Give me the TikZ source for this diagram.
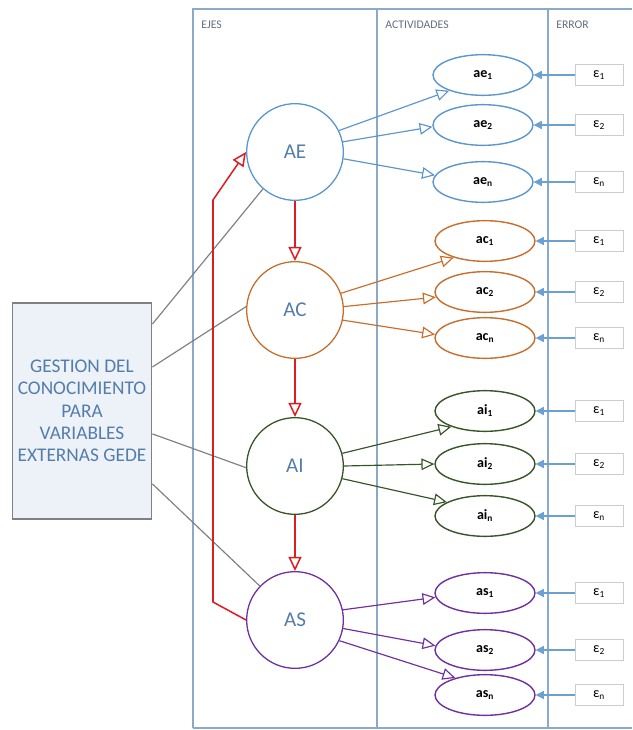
\documentclass[tikz,border=0pt]{standalone}
\usepackage{fontspec}
\setmainfont{Carlito}
\usetikzlibrary{shapes}
\usetikzlibrary{arrows.meta}

\definecolor{ejeblue}{RGB}{91,150,205}
\definecolor{ejeorange}{RGB}{200,110,45}
\definecolor{ejegreen}{RGB}{55,85,40}
\definecolor{ejepurple}{RGB}{112,48,160}
\definecolor{ejered}{RGB}{220,30,35}
\definecolor{framecol}{RGB}{140,170,200}
\definecolor{textblue}{RGB}{85,125,170}
\definecolor{headgray}{RGB}{100,110,125}
\definecolor{boxfill}{RGB}{236,242,248}

\begin{document}
\begin{tikzpicture}[x=0.03cm,y=-0.03cm,thick,
  eje node/.style={circle,draw,line width=1.1pt,minimum size=2.9cm,text=textblue,font=\fontsize{18}{20}\selectfont},
  act node/.style={ellipse,draw,line width=1.2pt,minimum width=3cm,minimum height=1.22cm,font=\bfseries\fontsize{12}{13}\selectfont},
  err node/.style={rectangle,draw=gray!40,line width=0.8pt,minimum width=1.44cm,minimum height=0.63cm,font=\fontsize{12}{13}\selectfont},
  head node/.style={anchor=west,text=headgray,font=\fontsize{10}{12}\selectfont},
  act edge/.style={line width=1pt,-{Triangle[open,length=11pt,width=10pt]}},
  err edge/.style={color=ejeblue!90,line width=0.9pt,-{Triangle[length=7pt,width=7pt]}},
  red edge/.style={color=ejered,line width=1.3pt,-{Triangle[open,length=12pt,width=11pt]}},
  gray edge/.style={color=gray,line width=1pt}]

	      \useasboundingbox (0,0) rectangle (632,730);

	      % frame of the columns
	      \draw[framecol,line width=0.9pt] (193,728) -- (193,9) -- (632,9);
	      \draw[framecol,line width=0.9pt] (193,728) -- (632,728);
	      \draw[framecol,line width=0.9pt] (377,9) -- (377,728);
	      \draw[framecol,line width=0.9pt] (548,9) -- (548,728);

	      \node[head node] at (197,25) (h1) {EJES};
	      \node[head node] at (381,25) (h2) {ACTIVIDADES};
	      \node[head node] at (552,25) (h3) {ERROR};

	      \node[rectangle,draw=gray,line width=1.5pt,fill=boxfill,text=textblue,align=center,
	            minimum width=4.17cm,minimum height=6.48cm,font=\fontsize{16.5}{19}\selectfont]
	            at (82,411) (gede) {GESTION DEL\\CONOCIMIENTO\\PARA\\VARIABLES\\EXTERNAS GEDE};

	      \node[eje node,draw=ejeblue] at (295,152) (AE) {AE};
	      \node[eje node,draw=ejeorange] at (295,310) (AC) {AC};
	      \node[eje node,draw=ejegreen] at (295,466) (AI) {AI};
	      \node[eje node,draw=ejepurple] at (295,620) (AS) {AS};

	      \node[act node,draw=ejeblue] at (483,75) (ae1) {ae\textsubscript{1}};
	      \node[act node,draw=ejeblue] at (483,125) (ae2) {ae\textsubscript{2}};
	      \node[act node,draw=ejeblue] at (483,182) (aen) {ae\textsubscript{n}};
	      \node[act node,draw=ejeorange] at (485,241) (ac1) {ac\textsubscript{1}};
	      \node[act node,draw=ejeorange] at (485,292) (ac2) {ac\textsubscript{2}};
	      \node[act node,draw=ejeorange] at (485,338) (acn) {ac\textsubscript{n}};
	      \node[act node,draw=ejegreen] at (485,411) (ai1) {ai\textsubscript{1}};
	      \node[act node,draw=ejegreen] at (485,464) (ai2) {ai\textsubscript{2}};
	      \node[act node,draw=ejegreen] at (485,516) (ain) {ai\textsubscript{n}};
	      \node[act node,draw=ejepurple] at (485,593) (as1) {as\textsubscript{1}};
	      \node[act node,draw=ejepurple] at (485,650) (as2) {as\textsubscript{2}};
	      \node[act node,draw=ejepurple] at (485,695) (asn) {as\textsubscript{n}};

	      \node[err node] at (599,75) (e1) {ε\textsubscript{1}};
	      \node[err node] at (599,125) (e2) {ε\textsubscript{2}};
	      \node[err node] at (599,182) (e3) {ε\textsubscript{n}};
	      \node[err node] at (599,241) (e4) {ε\textsubscript{1}};
	      \node[err node] at (599,292) (e5) {ε\textsubscript{2}};
	      \node[err node] at (599,338) (e6) {ε\textsubscript{n}};
	      \node[err node] at (599,411) (e7) {ε\textsubscript{1}};
	      \node[err node] at (599,464) (e8) {ε\textsubscript{2}};
	      \node[err node] at (599,516) (e9) {ε\textsubscript{n}};
	      \node[err node] at (599,593) (e10) {ε\textsubscript{1}};
	      \node[err node] at (599,650) (e11) {ε\textsubscript{2}};
	      \node[err node] at (599,695) (e12) {ε\textsubscript{n}};

	      % gede to the axes
	      \path[gray edge]
	      (gede.51) edge (AE.229)
	      (gede.32) edge (AC.176)
	      (gede.-18) edge (AI.182)
	      (gede.-46) edge (AS.136)
	      ;

	      % axes one after another
	      \path[red edge]
	      (AE) edge (AC)
	      (AC) edge (AI)
	      (AI) edge (AS)
	      ;
	      \draw[red edge] (AS.west) -- (213,602) -- (213,200) -- (AE.west);

	      \path[act edge,ejeblue]
	      (AE.26) edge (ae1.205)
	      (AE.12) edge (ae2.182)
	      (AE.-8) edge (aen.172)
	      ;
	      \path[act edge,ejeorange]
	      (AC.20) edge (ac1.208)
	      (AC.4) edge (ac2.186)
	      (AC.-12) edge (acn.176)
	      ;
	      \path[act edge,ejegreen]
	      (AI.15) edge (ai1.205)
	      (AI.0) edge (ai2.180)
	      (AI.-15) edge (ain.160)
	      ;
	      \path[act edge,ejepurple]
	      (AS.12) edge (as1.185)
	      (AS.-10) edge (as2.175)
	      (AS.-25) edge (asn.150)
	      ;

	      \path[err edge]
	      (e1) edge (ae1) (e2) edge (ae2) (e3) edge (aen)
	      (e4) edge (ac1) (e5) edge (ac2) (e6) edge (acn)
	      (e7) edge (ai1) (e8) edge (ai2) (e9) edge (ain)
	      (e10) edge (as1) (e11) edge (as2) (e12) edge (asn)
	      ;

	    \end{tikzpicture}
\end{document}
